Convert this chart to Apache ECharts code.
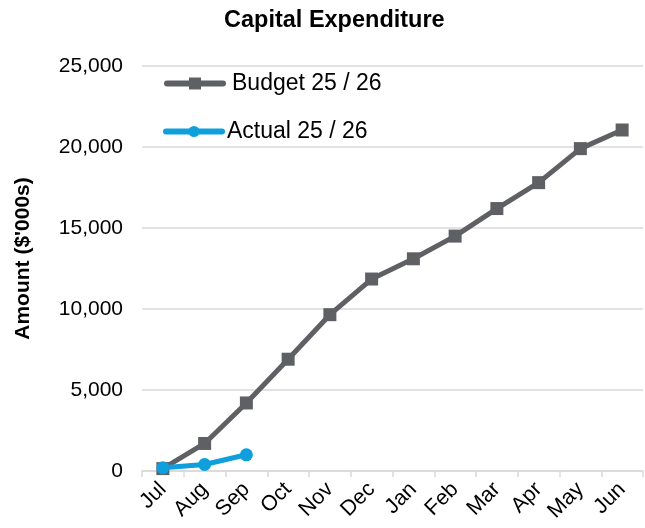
<!DOCTYPE html>
<html>
<head>
<meta charset="utf-8">
<script src="https://cdn.jsdelivr.net/npm/echarts@6/dist/echarts.min.js"></script>
<style>
html,body{margin:0;padding:0;background:#fff;}
#chart{width:645px;height:528px;}
</style>
</head>
<body>
<div id="chart"></div>
<script>
var categories = ['Jul','Aug','Sep','Oct','Nov','Dec','Jan','Feb','Mar','Apr','May','Jun'];
var budgetName = 'Budget 25 / 26';
var actualName = 'Actual 25 / 26';
var budgetValues = [150, 1700, 4200, 6900, 9650, 11850, 13100, 14500, 16200, 17800, 19900, 21050];
var actualValues = [200, 400, 1000];
var yTicks = [0, 5000, 10000, 15000, 20000, 25000];

var FONT = '"Liberation Sans", Arial, sans-serif';
var GRAY = '#5f6064';
var BLUE = '#0f9fdc';

var chart = echarts.init(document.getElementById('chart'), null, {renderer: 'canvas'});
chart.setOption({
  backgroundColor: '#ffffff',
  animation: false,
  title: {
    text: 'Capital Expenditure',
    left: 219,
    top: 4,
    textStyle: {fontFamily: FONT, fontWeight: 'bold', fontSize: 23.5, color: '#000'}
  },
  legend: [{
    data: [budgetName],
    orient: 'vertical',
    left: 164,
    top: 72,
    padding: 0,
    itemWidth: 56,
    itemHeight: 15,
    lineStyle: {width: 6, cap: 'round'},
    textStyle: {fontFamily: FONT, fontSize: 23, color: '#000', padding: [0, 0, 0, 4]}
  }, {
    data: [actualName],
    orient: 'vertical',
    left: 163,
    top: 120,
    padding: 0,
    itemWidth: 56,
    itemHeight: 14,
    lineStyle: {width: 6, cap: 'round'},
    textStyle: {fontFamily: FONT, fontSize: 23, color: '#000', padding: [0, 0, 0, 0]}
  }],
  grid: {left: 142, right: 2, top: 66, bottom: 57, containLabel: false},
  xAxis: {
    type: 'category',
    data: categories,
    boundaryGap: true,
    axisLine: {show: true, lineStyle: {color: '#d9d9d9', width: 1.5}},
    axisTick: {show: true, interval: 0, length: 6, lineStyle: {color: '#d9d9d9', width: 1.5}},
    axisLabel: {interval: 0, rotate: 45, margin: 15, fontFamily: FONT, fontSize: 21.5, color: '#000'}
  },
  yAxis: {
    type: 'value',
    min: yTicks[0],
    max: yTicks[yTicks.length - 1],
    interval: yTicks[1] - yTicks[0],
    name: "Amount ($'000s)",
    nameLocation: 'middle',
    nameGap: 108,
    nameTextStyle: {fontFamily: FONT, fontWeight: 'bold', fontSize: 21, color: '#000', padding: [0, 0, 0, 20]},
    axisLine: {show: false},
    axisTick: {show: false},
    axisLabel: {
      margin: 19,
      fontFamily: FONT, fontSize: 21, color: '#000',
      formatter: function (v) { return v.toLocaleString('en-US'); }
    },
    splitLine: {show: true, lineStyle: {color: '#d9d9d9', width: 1.5}}
  },
  series: [{
    name: budgetName,
    type: 'line',
    data: budgetValues,
    symbol: 'rect',
    symbolSize: 13,
    lineStyle: {color: GRAY, width: 5},
    itemStyle: {color: GRAY},
    z: 2
  }, {
    name: actualName,
    type: 'line',
    data: actualValues,
    symbol: 'circle',
    symbolSize: 13,
    lineStyle: {color: BLUE, width: 5},
    itemStyle: {color: BLUE},
    z: 3
  }]
});
</script>
</body>
</html>
